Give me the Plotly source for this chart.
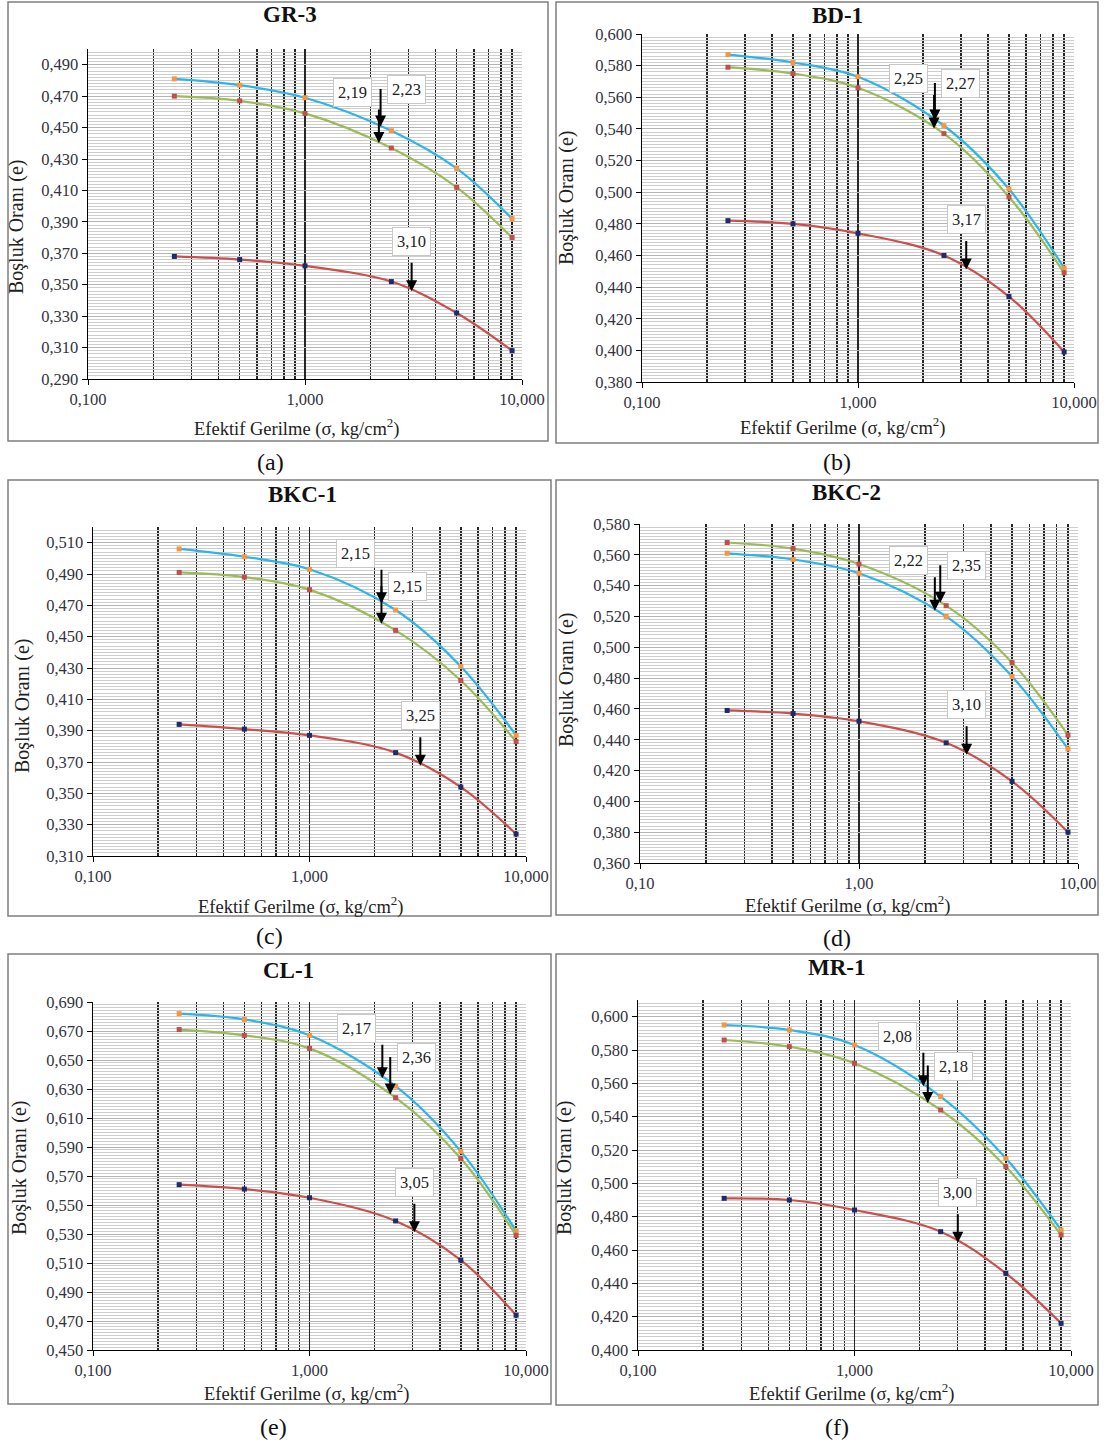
import numpy as np
import plotly.graph_objects as go

W, H = 1104, 1442

# ---------------- data ----------------
sigma = [0.25, 0.5, 1.0, 2.5, 5.0, 9.0]

titles = ["GR-3", "BD-1", "BKC-1", "BKC-2", "CL-1", "MR-1"]
tags = ["(a)", "(b)", "(c)", "(d)", "(e)", "(f)"]

gr3_cyan = [0.481, 0.477, 0.469, 0.448, 0.424, 0.392]
gr3_green = [0.470, 0.467, 0.459, 0.437, 0.412, 0.380]
gr3_red = [0.368, 0.366, 0.362, 0.352, 0.332, 0.308]

bd1_cyan = [0.587, 0.582, 0.573, 0.542, 0.502, 0.452]
bd1_green = [0.579, 0.575, 0.566, 0.537, 0.497, 0.449]
bd1_red = [0.482, 0.480, 0.474, 0.460, 0.434, 0.399]

bkc1_cyan = [0.506, 0.501, 0.493, 0.467, 0.431, 0.387]
bkc1_green = [0.491, 0.488, 0.480, 0.454, 0.422, 0.383]
bkc1_red = [0.394, 0.391, 0.387, 0.376, 0.354, 0.324]

bkc2_cyan = [0.561, 0.557, 0.548, 0.520, 0.481, 0.434]
bkc2_green = [0.568, 0.564, 0.554, 0.527, 0.490, 0.443]
bkc2_red = [0.459, 0.457, 0.452, 0.438, 0.413, 0.380]

cl1_cyan = [0.682, 0.678, 0.667, 0.632, 0.587, 0.532]
cl1_green = [0.671, 0.667, 0.658, 0.624, 0.582, 0.529]
cl1_red = [0.564, 0.561, 0.555, 0.539, 0.512, 0.474]

mr1_cyan = [0.595, 0.592, 0.583, 0.552, 0.515, 0.472]
mr1_green = [0.586, 0.582, 0.572, 0.544, 0.510, 0.469]
mr1_red = [0.491, 0.490, 0.484, 0.471, 0.446, 0.416]

series_by_panel = [
    {"cyan": gr3_cyan, "green": gr3_green, "red": gr3_red},
    {"cyan": bd1_cyan, "green": bd1_green, "red": bd1_red},
    {"cyan": bkc1_cyan, "green": bkc1_green, "red": bkc1_red},
    {"cyan": bkc2_cyan, "green": bkc2_green, "red": bkc2_red},
    {"cyan": cl1_cyan, "green": cl1_green, "red": cl1_red},
    {"cyan": mr1_cyan, "green": mr1_green, "red": mr1_red},
]

# preconsolidation-pressure labels: (value, series) in order left-box, right-box, top-box
gr3_pc = [(2.19, "green"), (2.23, "cyan"), (3.10, "red")]
bd1_pc = [(2.25, "green"), (2.27, "cyan"), (3.17, "red")]
bkc1_pc = [(2.15, "cyan"), (2.15, "green"), (3.25, "red")]
bkc2_pc = [(2.22, "cyan"), (2.35, "green"), (3.10, "red")]
cl1_pc = [(2.17, "cyan"), (2.36, "green"), (3.05, "red")]
mr1_pc = [(2.08, "cyan"), (2.18, "green"), (3.00, "red")]
pc_by_panel = [gr3_pc, bd1_pc, bkc1_pc, bkc2_pc, cl1_pc, mr1_pc]

y_ranges = [(0.29, 0.50), (0.38, 0.60), (0.31, 0.52), (0.36, 0.58), (0.45, 0.69), (0.40, 0.61)]
x_decimals = [3, 3, 3, 2, 3, 3]

# ---------------- styles / layout geometry (pixels) ----------------
plot_boxes = [  # x0, x1, y0(top), y1(bottom)
    (88, 522, 49, 379),
    (642, 1074, 34, 382),
    (93, 526, 527, 856),
    (640, 1078, 524, 863),
    (93, 526, 1002, 1350),
    (638, 1071, 1000, 1350),
]
frames = [
    (8, 548, 2, 441),
    (556, 1098, 2, 443),
    (8, 551, 480, 916),
    (556, 1098, 480, 915),
    (8, 551, 954, 1404),
    (556, 1098, 954, 1405),
]
title_pos = [(290, 15), (837, 16), (302, 494), (846, 492), (288, 970), (836, 967)]
xtitle_pos = [(297, 428), (843, 427), (301, 905), (848, 904), (307, 1392), (852, 1392)]
ytitle_pos = [(16, 227), (567, 198), (22, 706), (566, 680), (19, 1168), (564, 1168)]
tag_pos = [(270, 462), (837, 462), (269, 936), (837, 938), (273, 1427), (837, 1427)]

line_colors = {"cyan": "#2DB5E8", "green": "#9BBB59", "red": "#C9504D"}
marker_colors = {"cyan": "#F7963F", "green": "#C0504D", "red": "#1F2A6B"}

FONT = "Liberation Serif"
# slot styles: (arrow length, box dx, box dy) in px
slot_style = [(42, -26, -50), (46, 26, -37), (37, 0, -50)]


def px_x(p):
    return p / W


def px_y(p):
    return 1 - p / H


fig = go.Figure()
annotations = []
shapes = []

minor_x = [m * d for d in (0.1, 1.0) for m in range(2, 10)]

for i in range(6):
    n = i + 1
    xa = "x" if n == 1 else f"x{n}"
    ya = "y" if n == 1 else f"y{n}"
    xkey = "xaxis" if n == 1 else f"xaxis{n}"
    ykey = "yaxis" if n == 1 else f"yaxis{n}"
    x0, x1, y0, y1 = plot_boxes[i]
    lo, hi = y_ranges[i]

    fig.update_layout({
        xkey: dict(
            domain=[px_x(x0), px_x(x1)], anchor=ya, type="log", range=[-1, 1],
            tickvals=[0.1, 1, 10], tickformat=f".{x_decimals[i]}f",
            showgrid=True, gridcolor="#262626", gridwidth=1.4,
            minor=dict(tickvals=minor_x, showgrid=True, gridcolor="#262626", gridwidth=1.4, ticks=""),
            showline=True, linecolor="#000000", linewidth=1.4,
            ticks="outside", ticklen=5, tickcolor="#000000",
            tickfont=dict(family=FONT, size=16.5, color="#333340"),
            zeroline=False, automargin=False,
        ),
        ykey: dict(
            domain=[px_y(y1), px_y(y0)], anchor=xa, range=[lo, hi],
            tick0=lo, dtick=0.02, tickformat=".3f",
            showgrid=True, gridcolor="#B4B4B4", gridwidth=1,
            minor=dict(dtick=0.002, tick0=lo, showgrid=True, gridcolor="#CDCDCD", gridwidth=1, ticks=""),
            showline=True, linecolor="#000000", linewidth=1.4,
            ticks="outside", ticklen=5, tickcolor="#000000",
            tickfont=dict(family=FONT, size=16.5, color="#333340"),
            zeroline=False, automargin=False,
        ),
    })

    ser = series_by_panel[i]
    for key in ["cyan", "green", "red"]:
        fig.add_trace(go.Scatter(
            x=sigma, y=ser[key], xaxis=xa, yaxis=ya, mode="lines+markers",
            line=dict(color=line_colors[key], width=2.2, shape="spline", smoothing=1.0),
            marker=dict(color=marker_colors[key], symbol="square", size=5),
            showlegend=False, hoverinfo="skip",
        ))

    # arrows and labels
    logx = np.log10(sigma)
    for slot, (val, key) in enumerate(pc_by_panel[i]):
        tip_y = float(np.interp(np.log10(val), logx, ser[key]))
        alen, bdx, bdy = slot_style[slot]
        annotations.append(dict(
            x=np.log10(val), y=tip_y, xref=xa, yref=ya, text=" ",
            showarrow=True, ax=0, ay=-alen, arrowhead=2, arrowsize=1.1,
            arrowwidth=2, arrowcolor="#000000",
        ))
        annotations.append(dict(
            x=np.log10(val), y=tip_y, xref=xa, yref=ya,
            text=f"{val:.2f}".replace(".", ","), showarrow=False,
            xshift=bdx, yshift=-bdy,
            font=dict(family=FONT, size=16.5, color="#222222"),
            bgcolor="#FFFFFF", bordercolor="#C8C8C8", borderwidth=1, borderpad=4,
        ))

    # frame
    fx0, fx1, fy0, fy1 = frames[i]
    shapes.append(dict(type="rect", xref="paper", yref="paper",
                       x0=px_x(fx0), x1=px_x(fx1), y0=px_y(fy1), y1=px_y(fy0),
                       line=dict(color="#7F7F7F", width=1.5), layer="below"))

    tx, ty = title_pos[i]
    annotations.append(dict(x=px_x(tx), y=px_y(ty), xref="paper", yref="paper",
                            text=f"<b>{titles[i]}</b>", showarrow=False,
                            font=dict(family=FONT, size=23, color="#111111"),
                            xanchor="center", yanchor="middle"))
    tx, ty = xtitle_pos[i]
    annotations.append(dict(x=px_x(tx), y=px_y(ty), xref="paper", yref="paper",
                            text="Efektif Gerilme (σ, kg/cm<sup>2</sup>)", showarrow=False,
                            font=dict(family=FONT, size=18.5, color="#222222"),
                            xanchor="center", yanchor="middle"))
    tx, ty = ytitle_pos[i]
    annotations.append(dict(x=px_x(tx), y=px_y(ty), xref="paper", yref="paper",
                            text="Boşluk Oranı (e)", showarrow=False, textangle=-90,
                            font=dict(family=FONT, size=20, color="#222222"),
                            xanchor="center", yanchor="middle"))
    tx, ty = tag_pos[i]
    annotations.append(dict(x=px_x(tx), y=px_y(ty), xref="paper", yref="paper",
                            text=tags[i], showarrow=False,
                            font=dict(family=FONT, size=24, color="#111111"),
                            xanchor="center", yanchor="middle"))

fig.update_layout(
    width=W, height=H, margin=dict(l=0, r=0, t=0, b=0, pad=0, autoexpand=False),
    paper_bgcolor="#FFFFFF", plot_bgcolor="#FFFFFF",
    separators=",.", annotations=annotations, shapes=shapes,
    showlegend=False, font=dict(family=FONT),
)

fig.write_html(
    "out.html",
    config={"displayModeBar": False, "staticPlot": True},
    post_script="document.body.style.margin='0';document.body.style.overflow='hidden';",
)
